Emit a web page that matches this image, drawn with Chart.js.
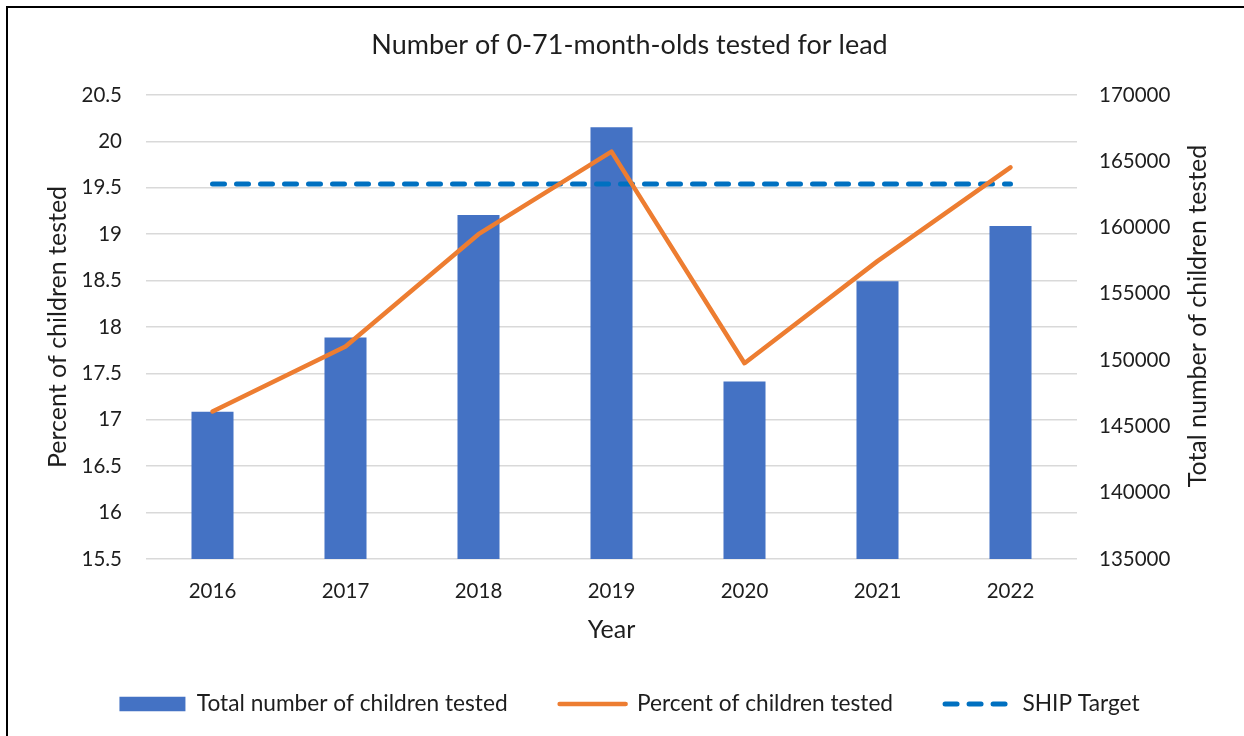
<!DOCTYPE html>
<html>
<head>
<meta charset="utf-8">
<script src="https://cdn.jsdelivr.net/npm/chart.js@4.4.1/dist/chart.umd.min.js"></script>
<style>
  html, body { margin: 0; padding: 0; background: #ffffff; overflow: hidden; }
  #wrap { position: absolute; left: 0; top: 0; width: 1244px; height: 736px; }
  #frame { position: absolute; left: 6px; top: 6px; width: 1400px; height: 900px;
           border-left: 2px solid #000; border-top: 2px solid #000; pointer-events: none; }
</style>
</head>
<body>
<div id="wrap"><canvas id="c" width="1244" height="736"></canvas></div>
<div id="frame"></div>
<script>
// ---- data ----
const years = ['2016', '2017', '2018', '2019', '2020', '2021', '2022'];
const totalTested = [146100, 151700, 160950, 167570, 148380, 155950, 160120];
const percentTested = [17.09, 17.79, 19.00, 19.89, 17.61, 18.71, 19.72];
const shipTarget = [19.54, 19.54, 19.54, 19.54, 19.54, 19.54, 19.54];
const leftTickLabels = ['15.5', '16', '16.5', '17', '17.5', '18', '18.5', '19', '19.5', '20', '20.5'];
const rightTickLabels = ['135000', '140000', '145000', '150000', '155000', '160000', '165000', '170000'];
const rightAxisTitle = 'Total number of children tested';

const FONT = 'Lato, "Open Sans", sans-serif';
const TXT = '#1e1e1e';

// right-hand axis title, read bottom-to-top like the left one
const rightTitlePlugin = {
  id: 'rightTitle',
  afterDraw(ch) {
    const s = ch.scales.y1;
    const ctx = ch.ctx;
    ctx.save();
    ctx.translate(s.right - 46, (s.top + s.bottom) / 2 - 11);
    ctx.rotate(-Math.PI / 2);
    ctx.font = '25px ' + FONT;
    ctx.fillStyle = TXT;
    ctx.textAlign = 'center';
    ctx.textBaseline = 'middle';
    ctx.fillText(rightAxisTitle, 0, 0);
    ctx.restore();
  }
};

const chart = new Chart(document.getElementById('c'), {
  type: 'bar',
  data: {
    labels: years,
    datasets: [
      {
        type: 'bar',
        label: 'Total number of children tested',
        data: totalTested,
        yAxisID: 'y1',
        backgroundColor: '#4472C4',
        borderWidth: 0,
        barPercentage: 0.316,
        categoryPercentage: 1.0,
        order: 3
      },
      {
        type: 'line',
        label: 'Percent of children tested',
        data: percentTested,
        yAxisID: 'y',
        borderColor: '#ED7D31',
        backgroundColor: '#ED7D31',
        borderWidth: 4.5,
        pointRadius: 0,
        tension: 0,
        borderCapStyle: 'round',
        borderJoinStyle: 'round',
        order: 1
      },
      {
        type: 'line',
        label: 'SHIP Target',
        data: shipTarget,
        yAxisID: 'y',
        borderColor: '#0070C0',
        backgroundColor: '#0070C0',
        borderWidth: 5,
        borderDash: [12, 12],
        borderCapStyle: 'round',
        pointRadius: 0,
        tension: 0,
        order: 2
      }
    ]
  },
  options: {
    responsive: false,
    animation: false,
    devicePixelRatio: 1,
    layout: { padding: { left: 15, right: 0, top: 0, bottom: 10.65 } },
    plugins: {
      tooltip: { enabled: false },
      title: {
        display: true,
        text: 'Number of 0-71-month-olds tested for lead',
        color: TXT,
        font: { family: FONT, size: 27, weight: 'normal', lineHeight: 1.2 },
        padding: { top: 28.8, bottom: 33.8 }
      },
      legend: {
        display: true,
        position: 'bottom',
        labels: {
          color: TXT,
          font: { family: FONT, size: 22.7 },
          usePointStyle: true,
          pointStyleWidth: 66,
          boxHeight: 14.5,
          padding: 52,
          sort: (a, b) => a.datasetIndex - b.datasetIndex,
          generateLabels: (ch) => ch.data.datasets.map((ds, i) => {
            const isBar = ds.type === 'bar';
            return {
              text: ds.label,
              datasetIndex: i,
              hidden: false,
              fontColor: TXT,
              fillStyle: isBar ? ds.backgroundColor : 'rgba(0,0,0,0)',
              strokeStyle: isBar ? 'rgba(0,0,0,0)' : ds.borderColor,
              lineWidth: isBar ? 0 : ds.borderWidth,
              lineDash: ds.borderDash || [],
              lineCap: 'round',
              pointStyle: isBar ? 'rect' : 'line'
            };
          })
        }
      }
    },
    scales: {
      x: {
        grid: { display: false, drawTicks: false },
        border: { display: false },
        ticks: { color: TXT, font: { family: FONT, size: 20.5, lineHeight: 1.2 }, padding: 20 },
        title: {
          display: true, text: 'Year', color: TXT,
          font: { family: FONT, size: 25, lineHeight: 1 },
          padding: { top: 0, bottom: -1.85 }
        },
        afterFit: (s) => { s.height = 81.65; }
      },
      y: {
        position: 'left',
        min: 15.5, max: 20.5,
        grid: { color: '#d9d9d9', lineWidth: 1.5, drawTicks: false },
        border: { display: false },
        ticks: {
          stepSize: 0.5, color: TXT, padding: 24,
          font: { family: FONT, size: 20.5 },
          callback: (v, i) => leftTickLabels[i]
        },
        title: {
          display: true, text: 'Percent of children tested', color: TXT,
          font: { family: FONT, size: 25, lineHeight: 1.2 },
          padding: { top: 28, bottom: 0 }
        },
        afterFit: (s) => { s.width = 131; }
      },
      y1: {
        position: 'right',
        min: 135000, max: 170000,
        grid: { display: false, drawTicks: false },
        border: { display: false },
        ticks: {
          stepSize: 5000, color: TXT, padding: 22,
          font: { family: FONT, size: 20.5 },
          callback: (v, i) => rightTickLabels[i]
        },
        title: { display: false, text: rightAxisTitle },
        afterFit: (s) => { s.width = 167; }
      }
    }
  },
  plugins: [rightTitlePlugin]
});
</script>
</body>
</html>
